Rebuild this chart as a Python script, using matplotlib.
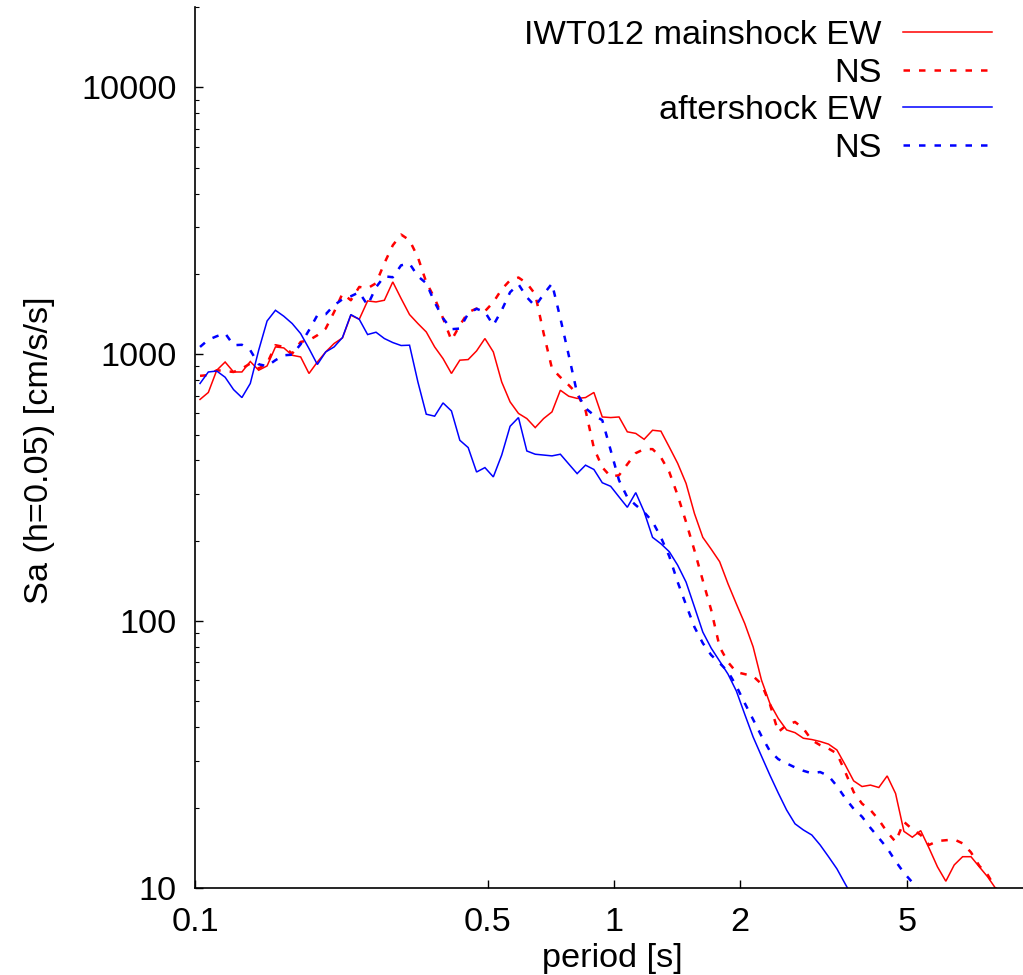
import numpy as np
import matplotlib
matplotlib.use("Agg")
import matplotlib.pyplot as plt
from matplotlib.lines import Line2D
from matplotlib.ticker import FixedLocator, NullLocator, NullFormatter, LogLocator

nan = np.nan

period = [0.1028, 0.1076, 0.1127, 0.1180, 0.1236, 0.1294, 0.1355, 0.1419, 0.1486, 0.1556,
          0.1629, 0.1706, 0.1787, 0.1871, 0.1959, 0.2051, 0.2148, 0.2249, 0.2355, 0.2466,
          0.2582, 0.2704, 0.2831, 0.2965, 0.3104, 0.3251, 0.3404, 0.3564, 0.3732, 0.3908,
          0.4093, 0.4286, 0.4487, 0.4699, 0.4920, 0.5152, 0.5395, 0.5649, 0.5916, 0.6194,
          0.6486, 0.6792, 0.7112, 0.7447, 0.7798, 0.8166, 0.8551, 0.8954, 0.9376, 0.9818,
          1.028, 1.076, 1.127, 1.180, 1.236, 1.294, 1.355, 1.419, 1.486, 1.556,
          1.629, 1.706, 1.787, 1.871, 1.959, 2.051, 2.148, 2.249, 2.355, 2.466,
          2.582, 2.704, 2.831, 2.965, 3.104, 3.251, 3.404, 3.564, 3.732, 3.908,
          4.093, 4.286, 4.487, 4.699, 4.920, 5.152, 5.395, 5.649, 5.916, 6.194,
          6.486, 6.792, 7.112, 7.447, 7.798, 8.166]

main_ew = [677, 719, 871, 935, 858, 858, 939, 871, 904, 1065,
           1056, 991, 977, 847, 935, 1020, 1097, 1151, 1400, 1352,
           1584, 1570, 1593, 1866, 1617, 1408, 1303, 1212, 1065, 963,
           847, 950, 955, 1029, 1145, 1020, 787, 663, 600, 574,
           531, 574, 608, 733, 696, 683, 688, 719, 582, 579,
           582, 512, 505, 480, 519, 515, 449, 390, 328, 253,
           206, 186, 167, 138, 116, 98, 80.1, 60.1, 49.2, 43.2,
           39.1, 38.2, 36.4, 36.0, 35.4, 34.6, 32.9, 28.9, 25.2, 24.0,
           24.3, 23.8, 26.3, 22.6, 16.3, 15.5, 16.4, 14.1, 12.0, 10.6,
           12.2, 13.1, 13.1, 12.0, 11.0, 9.9]

main_ns = [830, 835, 871, 865, 858, 884, 923, 884, 923, 1081,
           1065, 1006, 1112, 1128, 1178, 1248, 1440, 1688, 1593, 1787,
           1767, 1845, 2192, 2559, 2808, 2673, 2308, 1861, 1621, 1364,
           1128, 1284, 1437, 1483, 1449, 1566, 1751, 1893, 1938, 1845,
           1678, 1199, 884, 820, 766, 711, 617, 445, 377, 348,
           352, 387, 426, 441, 441, 411, 362, 296, 235, 184,
           142, 110, 80, 70.2, 64.4, 63.3, 62.2, 58.1, 48.9, 38.4,
           40.8, 41.9, 39.6, 35.8, 34.3, 33.3, 31.9, 27.2, 22.9, 20.7,
           19.6, 18.0, 16.2, 14.9, 17.7, 16.6, 15.8, 14.5, 15.0, 15.1,
           15.2, 14.7, 13.6, 12.1, 11.2, 9.9]

after_ew = [777, 858, 865, 820, 737, 688, 777, 1035, 1332, 1461,
            1388, 1303, 1195, 1050, 915, 1020, 1065, 1155, 1408, 1352,
            1185, 1209, 1145, 1106, 1078, 1081, 787, 596, 586, 657,
            613, 476, 447, 362, 376, 347, 419, 537, 579, 434,
            422, 419, 416, 422, 388, 357, 384, 370, 330, 320,
            292, 267, 303, 257, 206, 195, 182, 162, 140, 113,
            91, 79.2, 70.8, 63.3, 54.7, 44.8, 36.8, 31.2, 26.5, 22.7,
            19.6, 17.4, 16.5, 15.8, 14.5, 13.1, 11.8, 10.35, 9.1, nan,
            nan, nan, nan, nan, nan, nan, nan, nan, nan, nan,
            nan, nan, nan, nan, nan, nan]

after_ns = [1065, 1133, 1168, 1198, 1081, 1085, 1035, 917, 902, 950,
            991, 996, 1090, 1230, 1400, 1412, 1526, 1607, 1649, 1707,
            1526, 1782, 1959, 1943, 2154, 2186, 1959, 1845, 1566, 1364,
            1241, 1248, 1420, 1480, 1440, 1284, 1461, 1707, 1829, 1635,
            1513, 1678, 1840, 1364, 991, 714, 628, 591, 566, 437,
            337, 291, 272, 256, 236, 206, 175, 140, 115, 95,
            82.7, 74.6, 69.6, 64.7, 57.1, 49.3, 42.8, 37.1, 32.6, 30.4,
            29.3, 28.3, 27.5, 26.9, 27.2, 26.3, 24.1, 21.7, 19.8, 18.5,
            16.8, 15.4, 14.1, 12.6, 11.4, 10.5, 9.66, nan, nan, nan,
            nan, nan, nan, nan, nan, nan]

labels = ["IWT012 mainshock EW", "NS", "aftershock EW", "NS"]
colors = ["#ff0000", "#ff0000", "#0000ff", "#0000ff"]
styles = ["solid", "dashed", "solid", "dashed"]
series = [main_ew, main_ns, after_ew, after_ns]

xticks = [0.1, 0.5, 1, 2, 5]
xticklabels = ["0.1", "0.5", "1", "2", "5"]
yticks = [10, 100, 1000, 10000]
yticklabels = ["10", "100", "1000", "10000"]

plt.rcParams['font.family'] = ['Liberation Sans', 'DejaVu Sans']
FS = 24.7
W, H = 1023, 975
fig = plt.figure(figsize=(W / 100, H / 100), dpi=100)
ax = fig.add_axes([195 / W, (H - 888) / H, 838 / W, 881 / H])
ax.set_xscale('log')
ax.set_yscale('log')
ax.set_xlim(0.1, 10)
ax.set_ylim(10, 20000)

handles = []
for vals, c, ls in zip(series, colors, styles):
    if ls == 'solid':
        (ln,) = ax.plot(period, vals, color=c, lw=1.1, solid_joinstyle='miter')
    else:
        (ln,) = ax.plot(period, vals, color=c, lw=1.8, dashes=(2.6, 3.6),
                        dash_capstyle='butt')
    handles.append(ln)

for side in ['top', 'right']:
    ax.spines[side].set_visible(False)
for side in ['left', 'bottom']:
    ax.spines[side].set_linewidth(1.2)

ax.xaxis.set_major_locator(FixedLocator(xticks))
ax.set_xticklabels(xticklabels)
ax.xaxis.set_minor_locator(NullLocator())
ax.yaxis.set_major_locator(FixedLocator(yticks))
ax.set_yticklabels(yticklabels)
ax.yaxis.set_minor_locator(LogLocator(base=10, subs=np.arange(2, 10)))
ax.yaxis.set_minor_formatter(NullFormatter())
ax.tick_params(axis='both', which='major', direction='in', length=6, width=1,
               labelsize=FS, pad=13)
ax.tick_params(axis='y', which='minor', direction='in', length=3, width=0.8)
ax.tick_params(axis='x', which='major', pad=14)

ax.set_xlabel("period [s]", fontsize=FS)
ax.xaxis.set_label_coords(0.4976, -0.0795)
ax.xaxis.label.set_va('center')
ax.set_ylabel("Sa (h=0.05) [cm/s/s]", fontsize=FS, va='center')
ax.yaxis.set_label_coords(-0.185, 0.497)

# legend (text right-aligned, sample line to the right)
base_y = [44, 81.7, 119.3, 157]
line_y = [31.7, 69.7, 107.3, 145]
for lab, h, by, ly in zip(labels, handles, base_y, line_y):
    fig.text(882 / W, 1 - by / H, lab, ha='right', va='baseline', fontsize=FS)
    sample = Line2D([903 / W, 992 / W], [1 - ly / H, 1 - ly / H],
                    transform=fig.transFigure, color=h.get_color(),
                    lw=h.get_linewidth(), linestyle=h.get_linestyle())
    if h.get_linestyle() != '-':
        sample.set_dashes((2.6, 3.6))
        sample.set_dash_capstyle('butt')
    fig.add_artist(sample)

fig.savefig("out.png", dpi=100)
